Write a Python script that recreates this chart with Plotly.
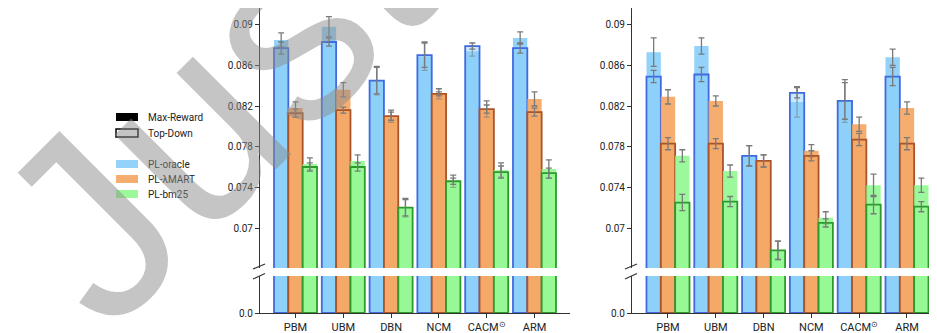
import plotly.graph_objects as go

# ---------------- data ----------------
categories = ["PBM", "UBM", "DBN", "NCM", "CACM<sup>⊙</sup>", "ARM"]
series = ["PL-oracle", "PL-λMART", "PL-bm25"]
top_ticks = [0.07, 0.074, 0.078, 0.082, 0.086, 0.09]
top_tick_labels = ["0.07", "0.074", "0.078", "0.082", "0.086", "0.09"]

# left panel
oracle_mr_a = [0.0885, 0.0898, 0.0845, 0.0869, 0.0874, 0.0887]
oracle_td_a = [0.0877, 0.0883, 0.0845, 0.0870, 0.0879, 0.0877]
oracle_mr_err_a = [0.0007, 0.0010, 0.0014, 0.0014, 0.0005, 0.0006]
oracle_td_err_a = [0.0006, 0.0004, 0.0013, 0.0012, 0.0003, 0.0005]
lambda_mr_a = [0.0818, 0.0836, 0.0810, 0.0832, 0.0817, 0.0827]
lambda_td_a = [0.0813, 0.0816, 0.0810, 0.0832, 0.0817, 0.0814]
lambda_mr_err_a = [0.0006, 0.0007, 0.0006, 0.0005, 0.0008, 0.0007]
lambda_td_err_a = [0.0004, 0.0003, 0.0004, 0.0002, 0.0004, 0.0004]
bm25_mr_a = [0.0763, 0.0766, 0.0720, 0.0746, 0.0757, 0.0758]
bm25_td_a = [0.0760, 0.0760, 0.0720, 0.0746, 0.0755, 0.0754]
bm25_mr_err_a = [0.0006, 0.0006, 0.0009, 0.0006, 0.0007, 0.0009]
bm25_td_err_a = [0.0004, 0.0004, 0.0008, 0.0003, 0.0006, 0.0005]

# right panel
oracle_mr_b = [0.0873, 0.0879, 0.0771, 0.0824, 0.0825, 0.0868]
oracle_td_b = [0.0849, 0.0851, 0.0771, 0.0833, 0.0825, 0.0849]
oracle_mr_err_b = [0.0014, 0.0008, 0.0010, 0.0015, 0.0021, 0.0008]
oracle_td_err_b = [0.0006, 0.0007, 0.0010, 0.0005, 0.0018, 0.0009]
lambda_mr_b = [0.0829, 0.0825, 0.0766, 0.0776, 0.0802, 0.0818]
lambda_td_b = [0.0783, 0.0783, 0.0766, 0.0771, 0.0787, 0.0783]
lambda_mr_err_b = [0.0007, 0.0005, 0.0006, 0.0006, 0.0007, 0.0006]
lambda_td_err_b = [0.0006, 0.0005, 0.0006, 0.0005, 0.0006, 0.0006]
bm25_mr_b = [0.0771, 0.0756, 0.0678, 0.0710, 0.0742, 0.0742]
bm25_td_b = [0.0725, 0.0726, 0.0678, 0.0705, 0.0723, 0.0721]
bm25_mr_err_b = [0.0006, 0.0006, 0.0009, 0.0006, 0.0011, 0.0007]
bm25_td_err_b = [0.0008, 0.0005, 0.0009, 0.0004, 0.0009, 0.0005]

# ---------------- style ----------------
OFF = 8                  # default body margin of the html page
W, H = 937 - OFF, 333 - OFF
MB = 20
PH = H - MB              # plot-area height (top margin 0)
fill_mr = ["rgba(135,206,250,0.9)", "rgba(244,164,96,0.9)", "rgba(144,248,144,0.9)"]
fill_td = ["rgba(135,206,250,0.45)", "rgba(244,164,96,0.45)", "rgba(144,248,144,0.45)"]
edges = ["#4169E1", "#A9542B", "#2E9A2E"]
ERRC = "#7a7a7a"
AXC = "#333333"
FONT = "Roboto"
BW = 0.3
PX_PER_UNIT = 203.3 / 0.02   # vertical scale of the upper segment


def px_x(x):
    return (x - OFF) / W


def px_y(y):
    return (PH + OFF - y) / PH


panels = [
    dict(mr=[oracle_mr_a, lambda_mr_a, bm25_mr_a], td=[oracle_td_a, lambda_td_a, bm25_td_a],
         mre=[oracle_mr_err_a, lambda_mr_err_a, bm25_mr_err_a], tde=[oracle_td_err_a, lambda_td_err_a, bm25_td_err_a],
         xa="x", yb="y", yt="y2"),
    dict(mr=[oracle_mr_b, lambda_mr_b, bm25_mr_b], td=[oracle_td_b, lambda_td_b, bm25_td_b],
         mre=[oracle_mr_err_b, lambda_mr_err_b, bm25_mr_err_b], tde=[oracle_td_err_b, lambda_td_err_b, bm25_td_err_b],
         xa="x2", yb="y3", yt="y4"),
]

fig = go.Figure()
idx = list(range(len(categories)))
for p in panels:
    for j in range(3):
        xs = [i + (j - 1) * BW for i in idx]
        for ya, with_err in ((p["yb"], False), (p["yt"], True)):
            fig.add_trace(go.Bar(
                x=xs, y=p["mr"][j], width=BW, xaxis=p["xa"], yaxis=ya,
                marker=dict(color=fill_mr[j], line=dict(width=0)),
                error_y=dict(type="data", array=p["mre"][j], color=ERRC, thickness=1.3, width=3,
                             visible=with_err),
                showlegend=False, hoverinfo="y"))
            fig.add_trace(go.Bar(
                x=xs, y=p["td"][j], width=BW, xaxis=p["xa"], yaxis=ya,
                marker=dict(color=fill_td[j], line=dict(width=1.8, color=edges[j])),
                error_y=dict(type="data", array=p["tde"][j], color=ERRC, thickness=1.3, width=3,
                             visible=with_err),
                showlegend=False, hoverinfo="y"))

top_dom = [px_y(268), 1.0]
bot_dom = [0, px_y(276)]
top_range = [0.07 - (268 - 228) / PX_PER_UNIT, 0.09 + (24.7 - OFF) / PX_PER_UNIT]

common_x = dict(tickvals=idx, ticktext=categories, showline=True, linecolor=AXC, linewidth=1.2,
                ticks="outside", ticklen=4, tickcolor=AXC, showgrid=False, zeroline=False,
                tickfont=dict(family=FONT, size=11, color="#222"))
common_y = dict(showline=True, linecolor=AXC, linewidth=1.2, ticks="outside", ticklen=4,
                tickcolor=AXC, showgrid=False, zeroline=False,
                tickfont=dict(family=FONT, size=10, color="#222"))

fig.update_layout(
    width=W, height=H, margin=dict(l=0, r=0, t=0, b=MB),
    paper_bgcolor="white", plot_bgcolor="white", barmode="overlay",
    xaxis=dict(domain=[px_x(260), px_x(570)], range=[-0.743, 5.743], anchor="y", **common_x),
    yaxis=dict(domain=bot_dom, range=[0, 0.01], tickvals=[0], ticktext=["0.0"], anchor="x", **common_y),
    yaxis2=dict(domain=top_dom, range=top_range, tickvals=top_ticks, ticktext=top_tick_labels,
                anchor="x", **common_y),
    xaxis2=dict(domain=[px_x(632), min(1.0, px_x(935))], range=[-0.753, 5.586], anchor="y3", **common_x),
    yaxis3=dict(domain=bot_dom, range=[0, 0.01], tickvals=[0], ticktext=["0.0"], anchor="x2", **common_y),
    yaxis4=dict(domain=top_dom, range=top_range, tickvals=top_ticks, ticktext=top_tick_labels,
                anchor="x2", **common_y),
)

shapes = []
# axis break marks
for ax in (260, 632):
    for (y0, y1) in ((269, 264), (279, 273.5)):
        shapes.append(dict(type="line", xref="paper", yref="paper",
                           x0=px_x(ax - 7), y0=px_y(y0), x1=px_x(ax + 5), y1=px_y(y1),
                           line=dict(color=AXC, width=1.2)))

# legend patches
legend_items = [("Max-Reward", 117, "black", "black"),
                ("Top-Down", 133, "white", "black"),
                (series[0], 164, fill_mr[0], fill_mr[0]),
                (series[1], 179, fill_mr[1], fill_mr[1]),
                (series[2], 194, fill_mr[2], fill_mr[2])]
annotations = []
for label, yc, fc, lc in legend_items:
    shapes.append(dict(type="rect", xref="paper", yref="paper",
                       x0=px_x(116), x1=px_x(138), y0=px_y(yc + 4), y1=px_y(yc - 4),
                       fillcolor=fc, line=dict(color=lc, width=1.5 if fc == "white" else 0)))
    annotations.append(dict(text=label, xref="paper", yref="paper", x=px_x(146), y=px_y(yc),
                            xanchor="left", yanchor="middle", showarrow=False,
                            font=dict(family=FONT, size=10, color="#222")))

# watermark
annotations.append(dict(text="Just", xref="paper", yref="paper", x=px_x(214), y=px_y(104),
                        xanchor="center", yanchor="middle", showarrow=False, textangle=-45,
                        font=dict(family="Liberation Sans", size=262, color="rgba(140,140,140,0.5)")))

fig.update_layout(shapes=shapes, annotations=annotations)
fig.write_html("out.html")
